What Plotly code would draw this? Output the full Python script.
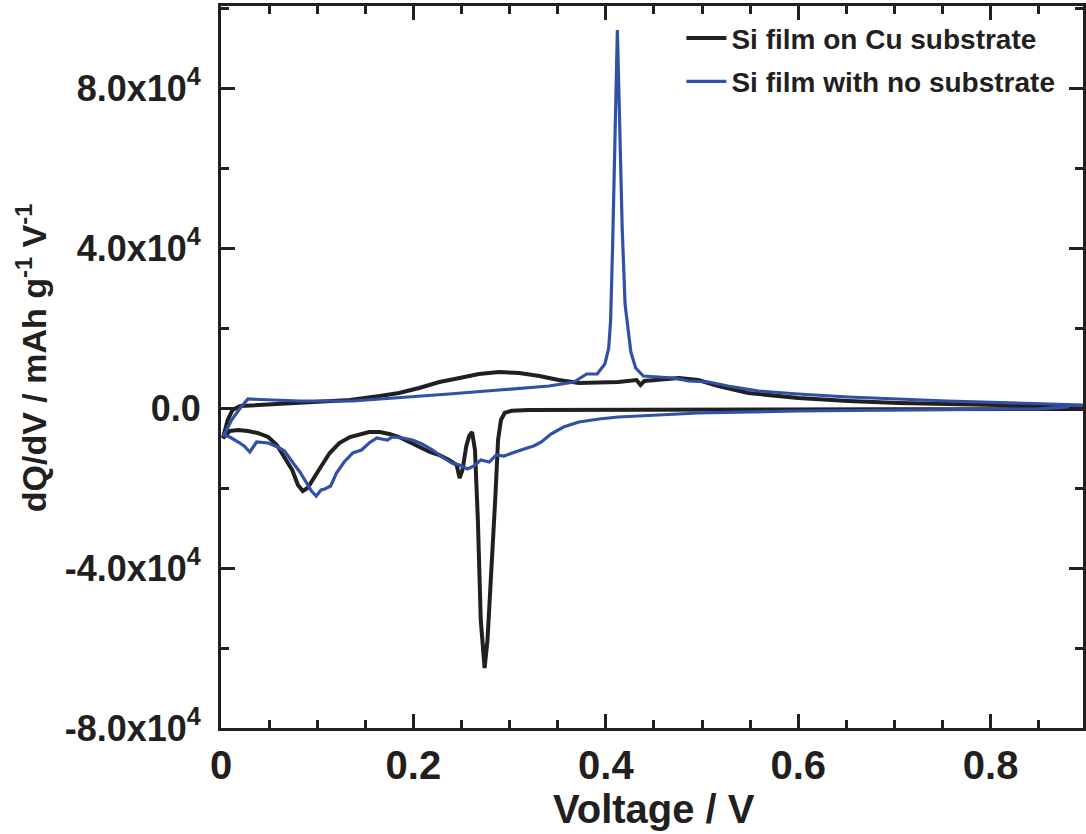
import plotly.graph_objects as go

# Si film on Cu substrate (discharge from 0.9 V down, then charge back up)
cu_v = [0.896, 0.704, 0.496, 0.393, 0.320, 0.302, 0.295, 0.291, 0.288, 0.285,
        0.281, 0.277, 0.274, 0.270, 0.267, 0.264, 0.261, 0.258, 0.255, 0.251,
        0.248, 0.245, 0.237, 0.227, 0.217, 0.206, 0.196, 0.185, 0.175, 0.165,
        0.154, 0.144, 0.134, 0.123, 0.113, 0.105, 0.097, 0.090, 0.085, 0.080,
        0.074, 0.066, 0.058, 0.049, 0.038, 0.028, 0.018, 0.009, 0.005, 0.002,
        0.007, 0.012, 0.020, 0.082, 0.134, 0.165, 0.185, 0.206, 0.227, 0.248,
        0.268, 0.289, 0.310, 0.331, 0.351, 0.372, 0.393, 0.413, 0.432, 0.436,
        0.440, 0.476, 0.496, 0.517, 0.548, 0.600, 0.652, 0.704, 0.807, 0.896]
cu_q = [-250, -250, -300, -400, -500, -700, -1200, -3000, -8000, -23000,
        -43000, -58000, -65000, -53000, -28000, -10500, -6000, -7000, -9500, -15500,
        -17500, -14250, -13000, -11750, -11000, -9750, -8500, -7250, -6500, -6000,
        -6000, -6500, -7250, -8750, -11250, -14250, -17500, -20000, -20750, -19250,
        -15500, -12250, -9250, -7250, -6250, -5750, -5500, -5750, -6750, -7500,
        -3000, -500, 500, 1250, 2000, 3000, 3750, 5000, 6500, 7500,
        8500, 9000, 8750, 8000, 7000, 6250, 6250, 6500, 7000, 5750,
        6750, 7500, 7000, 5500, 3750, 2500, 1750, 1250, 750, 500]

# Si film with no substrate
ns_v = [0.896, 0.850, 0.704, 0.600, 0.496, 0.445, 0.413, 0.393, 0.372, 0.356,
        0.343, 0.333, 0.325, 0.315, 0.305, 0.294, 0.286, 0.279, 0.270, 0.263,
        0.256, 0.248, 0.240, 0.230, 0.220, 0.209, 0.199, 0.189, 0.178, 0.173,
        0.167, 0.162, 0.154, 0.146, 0.137, 0.128, 0.120, 0.114, 0.108, 0.104,
        0.099, 0.094, 0.089, 0.082, 0.075, 0.066, 0.059, 0.049, 0.037, 0.030,
        0.024, 0.018, 0.009, 0.003,
        0.011, 0.020, 0.028, 0.051, 0.082, 0.137, 0.185, 0.237, 0.289, 0.341,
        0.367, 0.380, 0.391, 0.399, 0.403, 0.405, 0.407, 0.410, 0.412, 0.414,
        0.417, 0.420, 0.426, 0.431, 0.439, 0.455, 0.470, 0.486, 0.507, 0.527,
        0.559, 0.600, 0.652, 0.755, 0.859, 0.896]
ns_q = [500, -200, -500, -750, -1250, -1750, -2250, -2750, -3500, -4750,
        -6500, -8500, -9500, -10250, -11000, -12000, -11750, -13500, -13000, -14500,
        -15250, -14250, -13750, -12250, -10500, -9000, -8000, -7500, -7250, -8000,
        -7750, -7500, -8750, -10500, -11250, -13500, -16250, -19500, -20250, -20500,
        -22000, -20750, -18750, -16000, -13750, -10750, -9750, -8750, -8500, -11000,
        -9500, -8500, -7250, -6750,
        -3000, 0, 2250, 2000, 1750, 1750, 2500, 3500, 4500, 5500,
        6500, 8500, 8500, 11000, 15000, 22000, 40000, 70000, 94500, 75000,
        45000, 26000, 14000, 10000, 8000, 7750, 7500, 6750, 6500, 5500,
        4250, 3500, 2750, 1750, 1000, 750]

x_tickvals = [0, 0.2, 0.4, 0.6, 0.8]
x_ticktext = ["0", "0.2", "0.4", "0.6", "0.8"]
y_tickvals = [-80000, -40000, 0, 40000, 80000]
y_ticktext = ["-8.0x10<sup>4</sup>", "-4.0x10<sup>4</sup>", "0.0",
              "4.0x10<sup>4</sup>", "8.0x10<sup>4</sup>"]

INK = "#231f20"
BLUE = "#3151a6"
FONT = "Liberation Sans, Arial, sans-serif"

fig = go.Figure()
fig.add_trace(go.Scatter(x=cu_v, y=cu_q, mode="lines", name="Si film on Cu substrate",
                         legendgroup="cu", line=dict(color=INK, width=4)))
fig.add_trace(go.Scatter(x=ns_v, y=ns_q, mode="lines", name="Si film with no substrate",
                         legendgroup="ns", line=dict(color=BLUE, width=3.2)))

axis_common = dict(showline=True, linecolor=INK, linewidth=3, mirror="ticks",
                   ticks="inside", tickwidth=3, tickcolor=INK, ticklen=14,
                   showgrid=False, zeroline=False)

fig.update_xaxes(range=[0, 0.896], tickmode="array", tickvals=x_tickvals,
                 ticktext=x_ticktext,
                 tickfont=dict(family=FONT, size=40, color=INK, weight="bold"),
                 minor=dict(dtick=0.05, ticks="inside", ticklen=8, tickwidth=3,
                            tickcolor=INK, showgrid=False),
                 ticklabelstandoff=0,
                 **axis_common)
fig.update_yaxes(range=[-80000, 100500], tickmode="array", tickvals=y_tickvals,
                 ticktext=y_ticktext,
                 tickfont=dict(family=FONT, size=36, color=INK, weight="bold"),
                 minor=dict(dtick=20000, tick0=0, ticks="inside", ticklen=8, tickwidth=3,
                            tickcolor=INK, showgrid=False),
                 ticklabelstandoff=10,
                 **axis_common)

fig.add_annotation(text="dQ/dV / mAh g<sup>-1</sup> V<sup>-1</sup>", textangle=-90,
                   xref="paper", yref="paper", x=-0.2197, y=0.513,
                   xanchor="center", yanchor="middle", showarrow=False,
                   font=dict(family=FONT, size=34, color=INK, weight="bold"))
fig.add_annotation(text="Voltage / V", xref="paper", yref="paper",
                   x=(656 - 221) / 865, y=-0.079, xanchor="center", yanchor="top",
                   showarrow=False,
                   font=dict(family=FONT, size=40, color=INK, weight="bold"))

fig.update_layout(
    width=1086, height=834,
    margin=dict(l=221, r=0, t=6, b=106, pad=0),
    plot_bgcolor="white", paper_bgcolor="white",
    showlegend=True,
    legend=dict(x=(683 - 221) / 865, y=0.990, xanchor="left", yanchor="top",
                bgcolor="rgba(0,0,0,0)", itemwidth=40,
                font=dict(family=FONT, size=28, color=INK, weight="bold"),
                tracegroupgap=4),
)

fig.write_html("out.html")
